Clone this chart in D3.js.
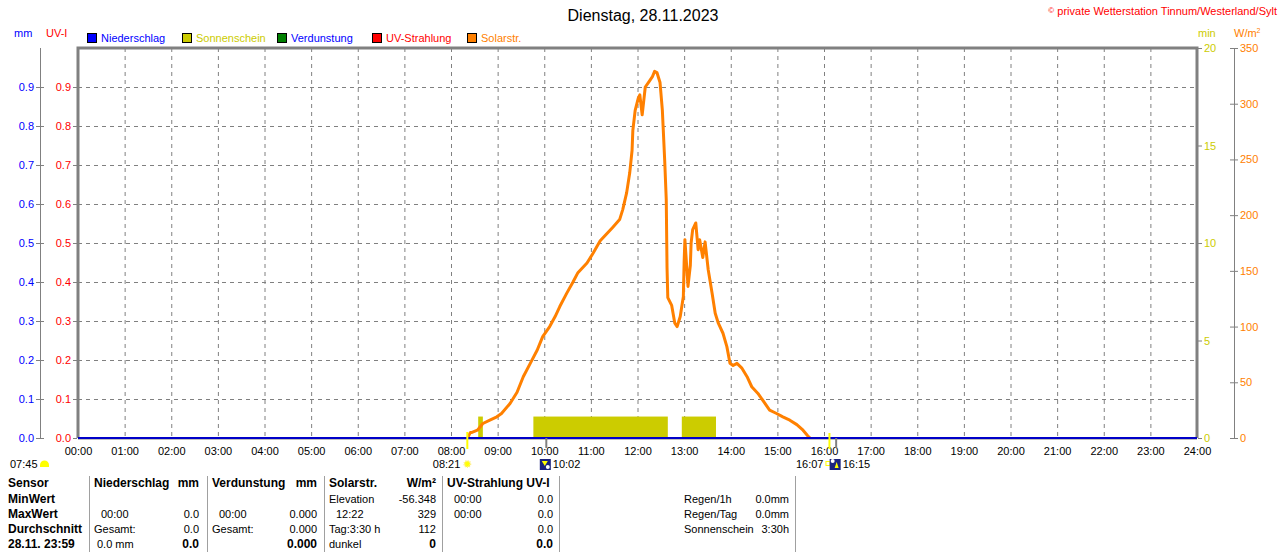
<!DOCTYPE html>
<html>
<head>
<meta charset="utf-8">
<script src="https://cdn.jsdelivr.net/npm/d3@7"></script>
<style>
  body { margin: 0; background: #fff; }
  svg { display: block; font-family: "Liberation Sans", Arial, sans-serif; }
</style>
</head>
<body>
<div id="chart"></div>
<script>
// ---- data ----
var titleText = "Dienstag, 28.11.2023"
var copyText = "private Wetterstation Tinnum/Westerland/Sylt"

var legendNames = ["Niederschlag", "Sonnenschein", "Verdunstung", "UV-Strahlung", "Solarstr."]
var legendColors = ["#0000ff", "#cccc00", "#008000", "#ff0000", "#ff8000"]
var legendTextColors = ["#0000ff", "#cccc00", "#0000ff", "#ff0000", "#ff8000"]

var uvTicks = [0, 0.1, 0.2, 0.3, 0.4, 0.5, 0.6, 0.7, 0.8, 0.9]
var minTicks = [0, 5, 10, 15, 20]
var wTicks = [0, 50, 100, 150, 200, 250, 300, 350]
var hourTicks = d3.range(0, 25)

// solar radiation W/m² (time, value)
var solarTimes = ["08:22","08:25","08:27","08:34","08:41","08:50","08:59","09:05","09:16","09:25",
  "09:33","09:42","09:51","09:58","10:07","10:14","10:20","10:29","10:37","10:43",
  "10:55","11:03","11:12","11:28","11:37","11:41","11:46","11:50","11:53","11:54",
  "11:57","12:01","12:03","12:06","12:07","12:10","12:14","12:19","12:22","12:25",
  "12:29","12:32","12:33","12:35","12:37","12:38","12:39","12:44","12:48","12:51",
  "12:55","12:59","13:00","13:01","13:05","13:08","13:09","13:11","13:15","13:18",
  "13:20","13:24","13:27","13:31","13:36","13:40","13:44","13:50","13:55","13:59",
  "14:03","14:08","14:14","14:21","14:27","14:35","14:44","14:50","14:59","15:07",
  "15:16","15:25","15:33","15:39","15:42"]
var solarValues = [1,5,5,7,13,16,19,22,31,41,
  55,67,79,91,100,109,118,130,140,148,
  157,166,177,189,196,205,220,238,258,276,
  294,305,308,290,296,315,319,324,329,328,
  319,294,279,249,214,153,126,119,103,100,
  109,127,158,178,136,155,175,187,193,169,
  178,162,176,151,130,112,103,94,82,67,
  65,67,63,55,46,40,31,25,22,19,
  16,12,7,2,0]

// sunshine minutes per interval
var sunStart = ["08:35", "09:46", "12:57"]
var sunEnd = ["08:41", "12:39", "13:41"]
var sunMinutes = [1.1, 1.1, 1.1]

// sun / moon events under the axis
var dawnTime = "07:45"
var sunriseTime = "08:21"
var sunsetTime = "16:07"
var moonRise = "10:02"
var moonSet = "16:15"

// summary table
var rowLabels = ["Sensor", "MinWert", "MaxWert", "Durchschnitt", "28.11. 23:59"]
var colHeads = ["Niederschlag", "Verdunstung", "Solarstr.", "UV-Strahlung UV-I"]
var colUnits = ["mm", "mm", "W/m²", ""]
var colLeft = [
  ["", "00:00", "Gesamt:", "0.0 mm"],
  ["", "00:00", "Gesamt:", ""],
  ["Elevation", "12:22", "Tag:3:30 h", "dunkel"],
  ["00:00", "00:00", "", ""]
]
var colRight = [
  ["", "0.0", "0.0", "0.0"],
  ["", "0.000", "0.000", "0.000"],
  ["-56.348", "329", "112", "0"],
  ["0.0", "0.0", "0.0", "0.0"]
]
var extraLabels = ["Regen/1h", "Regen/Tag", "Sonnenschein"]
var extraValues = ["0.0mm", "0.0mm", "3:30h"]

// ---- drawing ----
function toHour(t) {
  var p = t.split(":")
  return +p[0] + (+p[1]) / 60
}

var W = 1280, H = 552
var plot = {left: 78, right: 1197, top: 48, bottom: 438}

var svg = d3.select("#chart").append("svg")
  .attr("width", W)
  .attr("height", H)

var x = d3.scaleLinear().domain([0, 24]).range([plot.left, plot.right])
var yUV = d3.scaleLinear().domain([0, 1]).range([plot.bottom, plot.top])
var yMin = d3.scaleLinear().domain([0, 20]).range([plot.bottom, plot.top])
var yW = d3.scaleLinear().domain([0, 350]).range([plot.bottom, plot.top])

// title + copyright
svg.append("text").text(titleText)
  .attr("x", 643).attr("y", 21)
  .attr("text-anchor", "middle")
  .style("font-size", "16px")

var copy = svg.append("text")
  .attr("x", 1277).attr("y", 15)
  .attr("text-anchor", "end")
  .style("font-size", "11px")
  .style("fill", "#ff0000")
copy.append("tspan").text("©").style("font-size", "8px").attr("dy", "-2")
copy.append("tspan").text(" " + copyText).attr("dy", "2")

// unit labels
svg.append("text").text("mm").attr("x", 14).attr("y", 37)
  .style("font-size", "11px").style("fill", "#0000ff")
svg.append("text").text("UV-I").attr("x", 46).attr("y", 37)
  .style("font-size", "11px").style("fill", "#ff0000")
svg.append("text").text("min").attr("x", 1198).attr("y", 37)
  .style("font-size", "11px").style("fill", "#cccc00")
var wu = svg.append("text").attr("x", 1234).attr("y", 37)
  .style("font-size", "11px").style("fill", "#ff8000")
wu.append("tspan").text("W/m")
wu.append("tspan").text("2").style("font-size", "7px").attr("dy", "-4")

// legend
var legendX = [87, 182, 277, 372, 467]
var legend = svg.append("g").attr("id", "legend")
legendNames.forEach(function(n, i) {
  legend.append("rect")
    .attr("x", legendX[i] + 0.5).attr("y", 33.5)
    .attr("width", 9).attr("height", 9)
    .style("fill", legendColors[i])
    .style("stroke", "#000")
  legend.append("text").text(n)
    .attr("x", legendX[i] + 14).attr("y", 42)
    .style("font-size", "11px")
    .style("fill", legendTextColors[i])
})

// grid
var grid = svg.append("g").attr("id", "grid")
  .style("stroke", "#808080")
  .style("stroke-dasharray", "4,4")
grid.selectAll(".vg").data(hourTicks.slice(1, 24)).enter().append("line")
  .attr("x1", d => x(d) + 0.5).attr("x2", d => x(d) + 0.5)
  .attr("y1", plot.top).attr("y2", plot.bottom)
grid.selectAll(".hg").data(uvTicks.slice(1)).enter().append("line")
  .attr("x1", plot.left).attr("x2", plot.right)
  .attr("y1", d => Math.round(yUV(d)) + 0.5).attr("y2", d => Math.round(yUV(d)) + 0.5)

// sunshine bars
var bars = svg.append("g").attr("id", "sunBars")
bars.selectAll("rect").data(sunStart).enter().append("rect")
  .attr("x", (d, i) => x(toHour(d)))
  .attr("width", (d, i) => x(toHour(sunEnd[i])) - x(toHour(d)))
  .attr("y", (d, i) => yMin(sunMinutes[i]))
  .attr("height", (d, i) => plot.bottom - yMin(sunMinutes[i]))
  .style("fill", "#cccc00")

// solar line
var solarData = solarTimes.map((t, i) => ({h: toHour(t), v: solarValues[i]}))
var line = d3.line().x(d => x(d.h)).y(d => yW(d.v))
svg.append("path").datum(solarData)
  .attr("d", line)
  .style("fill", "none")
  .style("stroke", "#ff8000")
  .style("stroke-width", 3)
  .style("stroke-linejoin", "round")

// frame
svg.append("path")
  .attr("d", `M${plot.left},${plot.bottom}V${plot.top}H${plot.right}V${plot.bottom}`)
  .style("fill", "none").style("stroke", "#808080").style("stroke-width", 3)
svg.append("line")
  .attr("x1", plot.left).attr("x2", plot.right)
  .attr("y1", plot.bottom + 0.5).attr("y2", plot.bottom + 0.5)
  .style("stroke", "#808080").style("stroke-width", 2)
svg.append("line")
  .attr("x1", plot.left).attr("x2", plot.right)
  .attr("y1", plot.bottom).attr("y2", plot.bottom)
  .style("stroke", "#0000c8").style("stroke-width", 2)

// axes
function styleAxis(g, color) {
  g.select(".domain").remove()
  g.selectAll("line").style("stroke", "#808080")
  g.selectAll("text").style("fill", color).style("font-size", "11px")
    .style("font-family", "'Liberation Sans', Arial, sans-serif")
}

var mmAxis = svg.append("g").attr("transform", "translate(44,0)")
  .call(d3.axisLeft(yUV).tickValues(uvTicks).tickFormat(d3.format(".1f")).tickSizeInner(8).tickSizeOuter(0).tickPadding(2))
styleAxis(mmAxis, "#0000ff")
svg.append("line").attr("x1", 40.5).attr("x2", 40.5).attr("y1", plot.top).attr("y2", plot.bottom)
  .style("stroke", "#808080")

var uvAxis = svg.append("g").attr("transform", `translate(${plot.left - 1},0)`)
  .call(d3.axisLeft(yUV).tickValues(uvTicks).tickFormat(d3.format(".1f")).tickSizeInner(4).tickSizeOuter(0).tickPadding(2))
styleAxis(uvAxis, "#ff0000")

var minAxis = svg.append("g").attr("transform", `translate(${plot.right + 1},0)`)
  .call(d3.axisRight(yMin).tickValues(minTicks).tickSizeInner(4).tickSizeOuter(0).tickPadding(2))
styleAxis(minAxis, "#cccc00")

var wAxis = svg.append("g").attr("transform", "translate(1230,0)")
  .call(d3.axisRight(yW).tickValues(wTicks).tickSizeInner(8).tickSizeOuter(0).tickPadding(2))
styleAxis(wAxis, "#ff8000")
svg.append("line").attr("x1", 1234.5).attr("x2", 1234.5).attr("y1", plot.top).attr("y2", plot.bottom)
  .style("stroke", "#808080")

var xAxis = svg.append("g").attr("transform", `translate(0,${plot.bottom})`)
  .call(d3.axisBottom(x).tickValues(hourTicks).tickFormat(d => d3.format("02d")(d) + ":00").tickSize(0).tickPadding(9))
styleAxis(xAxis, "#000")

// sun / moon events
var ev = svg.append("g").attr("id", "events").style("font-size", "11px")
ev.append("text").text(dawnTime).attr("x", 10).attr("y", 468)
ev.append("path").attr("d", "M40,467 L40,465 A4.5,4.5 0 0 1 49,465 L49,467 Z").style("fill", "#ffff00")

var sr = x(toHour(sunriseTime))
ev.append("line").attr("x1", sr).attr("x2", sr).attr("y1", 432).attr("y2", 449)
  .style("stroke", "#ffff00").style("stroke-width", 2)
ev.append("text").text(sunriseTime).attr("x", sr - 7).attr("y", 468).attr("text-anchor", "end")
ev.append("circle").attr("cx", sr).attr("cy", 464).attr("r", 3).style("fill", "#ffff00")
  .style("stroke", "#ffee88").style("stroke-width", 2).style("stroke-dasharray", "1,1")

var ss = x(toHour(sunsetTime))
ev.append("line").attr("x1", ss).attr("x2", ss).attr("y1", 433).attr("y2", 449)
  .style("stroke", "#ffff00").style("stroke-width", 2)
ev.append("text").text(sunsetTime).attr("x", ss - 6).attr("y", 468).attr("text-anchor", "end")
ev.append("rect").attr("x", ss - 3.5).attr("y", 461.5).attr("width", 4).attr("height", 4)
  .style("fill", "none").style("stroke", "#ffff00")

;[moonRise, moonSet].forEach(function(t, i) {
  var mx = x(toHour(t))
  ev.append("line").attr("x1", mx + 0.5).attr("x2", mx + 0.5).attr("y1", plot.bottom).attr("y2", 448)
    .style("stroke", "#808080").style("stroke-width", 2)
  ev.append("rect").attr("x", mx - 6).attr("y", 459).attr("width", 11).attr("height", 11)
    .style("fill", "#1a237e")
  ev.append("path")
    .attr("d", i == 0 ? `M${mx - 4},461 L${mx - 1},466 L${mx + 2},461 Z` : `M${mx - 1},468 L${mx + 1},462 L${mx + 3},468 Z`)
    .style("fill", "#ffff00")
  ev.append("circle").attr("cx", i == 0 ? mx + 2 : mx - 3).attr("cy", i == 0 ? 467 : 461).attr("r", 2).style("fill", "#fff")
  ev.append("text").text(t).attr("x", mx + 7).attr("y", 468)
})

// summary table
var table = svg.append("g").attr("id", "table").style("font-size", "11px")
var rowY = [487, 503, 518, 533, 548]
var colX = [89, 207, 324, 442]
var colW = [116, 116, 118, 117]
var sepX = [89, 207, 324, 442, 559, 795]
sepX.forEach(function(sx) {
  table.append("line").attr("x1", sx + 0.5).attr("x2", sx + 0.5).attr("y1", 476).attr("y2", H)
    .style("stroke", "#a0a0a0")
})
rowLabels.forEach(function(r, i) {
  table.append("text").text(r).attr("x", 8).attr("y", rowY[i])
    .style("font-weight", "bold").style("font-size", "12px")
})
colHeads.forEach(function(h, c) {
  table.append("text").text(h).attr("x", colX[c] + 5).attr("y", rowY[0])
    .style("font-weight", "bold").style("font-size", "12px")
  table.append("text").text(colUnits[c]).attr("x", colX[c] + colW[c] - 6).attr("y", rowY[0])
    .attr("text-anchor", "end").style("font-weight", "bold").style("font-size", "12px")
  colLeft[c].forEach(function(t, r) {
    var indent = (t.indexOf(":") == 2 && t.length == 5) ? 12 : (t.indexOf("mm") > 0 ? 8 : 5)
    table.append("text").text(t).attr("x", colX[c] + indent).attr("y", rowY[r + 1])
  })
  colRight[c].forEach(function(t, r) {
    table.append("text").text(t).attr("x", colX[c] + colW[c] - 6).attr("y", rowY[r + 1])
      .attr("text-anchor", "end")
      .style("font-weight", r == 3 ? "bold" : "normal")
      .style("font-size", r == 3 ? "12px" : "11px")
  })
})
extraLabels.forEach(function(l, i) {
  table.append("text").text(l).attr("x", 684).attr("y", rowY[i + 1])
  table.append("text").text(extraValues[i]).attr("x", 789).attr("y", rowY[i + 1]).attr("text-anchor", "end")
})
</script>
</body>
</html>
